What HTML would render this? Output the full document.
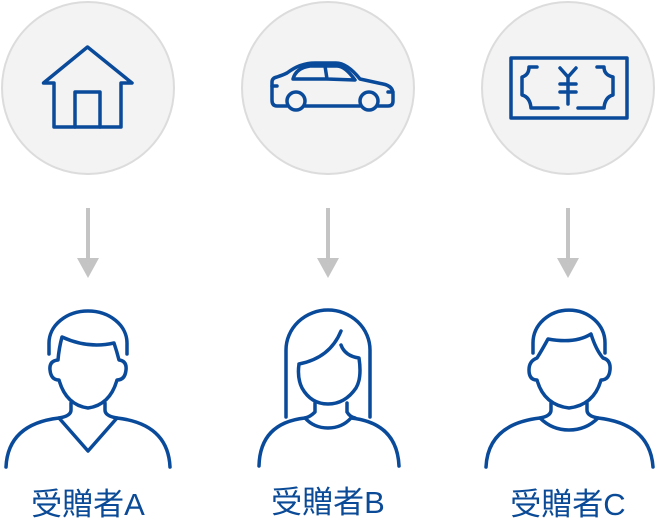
<!DOCTYPE html>
<html><head><meta charset="utf-8"><style>
html,body{margin:0;padding:0;background:#fff}
svg{display:block}
text{font-family:"Liberation Sans","Noto Sans CJK JP",sans-serif;fill:#0a4a96;font-size:31px}
</style></head><body>
<svg width="656" height="529" viewBox="0 0 656 529" xmlns="http://www.w3.org/2000/svg">
<g fill="#f3f3f3" stroke="#dcdcdc" stroke-width="2">
<circle cx="88" cy="88" r="86"/><circle cx="328" cy="88" r="86"/><circle cx="568" cy="88" r="86"/>
</g>
<g fill="none" stroke="#0a4a9a" stroke-width="3.5" stroke-linejoin="round" stroke-linecap="round">
<path d="M43.5,83 L87.5,47 L132,83 H121 V127 H54 V83 Z"/>
<path d="M75,127 V92 H100 V127"/>
<path d="M287,106 H277 Q272,106 272,100 V82 Q272,78 277,77 Q283,75 287,73 Q300,63 315,63 H336 Q347,63 360,79 L383,84 Q393,86 393,94 V101 Q393,106 388,106 H378"/>
<path d="M305,106 H360"/>
<path d="M293,79 Q296,68 310,66 H325 L327,79 Z M327,79 L325,66 H337 Q345,66 355,80 Z"/>
<path d="M272,86 H277 M393,92 H388"/>
<circle cx="296" cy="101" r="9"/><circle cx="369" cy="101" r="9"/>
<rect x="511" y="58" width="116" height="60"/>
<path d="M537,67 H529 Q529,75 522,77 V95 Q530,97 531,108 H558"/>
<path d="M597,67 H604 Q604,75 613,77 V95 Q605,97 604,108 H578"/>
<path d="M560,68 L568,77 L576,68 M568,77 V104 M560,84 H576 M560,92 H576"/>
</g>
<g fill="#c4c4c4">
<rect x="86" y="208" width="4" height="52"/><path d="M77,258 H99 L88,278 Z"/>
<rect x="326" y="208" width="4" height="52"/><path d="M317,258 H339 L328,278 Z"/>
<rect x="566" y="208" width="4" height="52"/><path d="M557,258 H579 L568,278 Z"/>
</g>
<g fill="none" stroke="#0a4a9a" stroke-width="3.5" stroke-linejoin="round" stroke-linecap="round">
<path d="M49,354 V343 A39,32 0 0 1 127,343 V354"/>
<path d="M62,337 Q88,349 114,343 Q117,352 119,360 Q127,361 126,370 Q125,380 117,380 Q110,405 88,408 Q66,405 59,380 Q51,380 50,370 Q49,361 58,360 Q59,348 62,337 Z"/>
<path d="M71,403 V410 Q71,416 59,418 M105,403 V410 Q105,416 117,418"/>
<path d="M6,467 Q8,424 59,418 L88,451 L117,418 Q168,424 170,467"/>
<path d="M286,417 V350 A42,40 0 0 1 370,350 V417"/>
<path d="M299,364 Q330,358 341,331 M341,345 Q345,356 359,358 Q362,378 356,388 Q345,404 328,404 Q311,404 302,388 Q297,378 299,364"/>
<path d="M315,403 V412 Q310,417 305,418 M347,403 V412 Q350,417 355,418"/>
<path d="M259,466 Q260,423 305,418 Q314,428 328,428 Q342,428 351,418 Q397,423 399,466"/>
<path d="M533,353 V343 A35,32 0 0 1 605,343 V353"/>
<path d="M548,339 Q575,344 591,334 Q596,350 603,358 Q611,360 610,370 Q609,380 601,380 Q594,405 569,408 Q544,405 537,380 Q529,380 529,370 Q529,361 537,358 Q542,350 548,339 Z"/>
<path d="M551,403 V410 Q551,416 540,418 M587,403 V410 Q587,416 598,418"/>
<path d="M486,467 Q488,424 540,418 Q552,430 569,430 Q586,430 598,418 Q650,424 653,467"/>
</g>
<text x="88" y="515" text-anchor="middle">受贈者A</text>
<text x="328" y="513" text-anchor="middle">受贈者B</text>
<text x="568" y="515" text-anchor="middle">受贈者C</text>
</svg>
</body></html>
